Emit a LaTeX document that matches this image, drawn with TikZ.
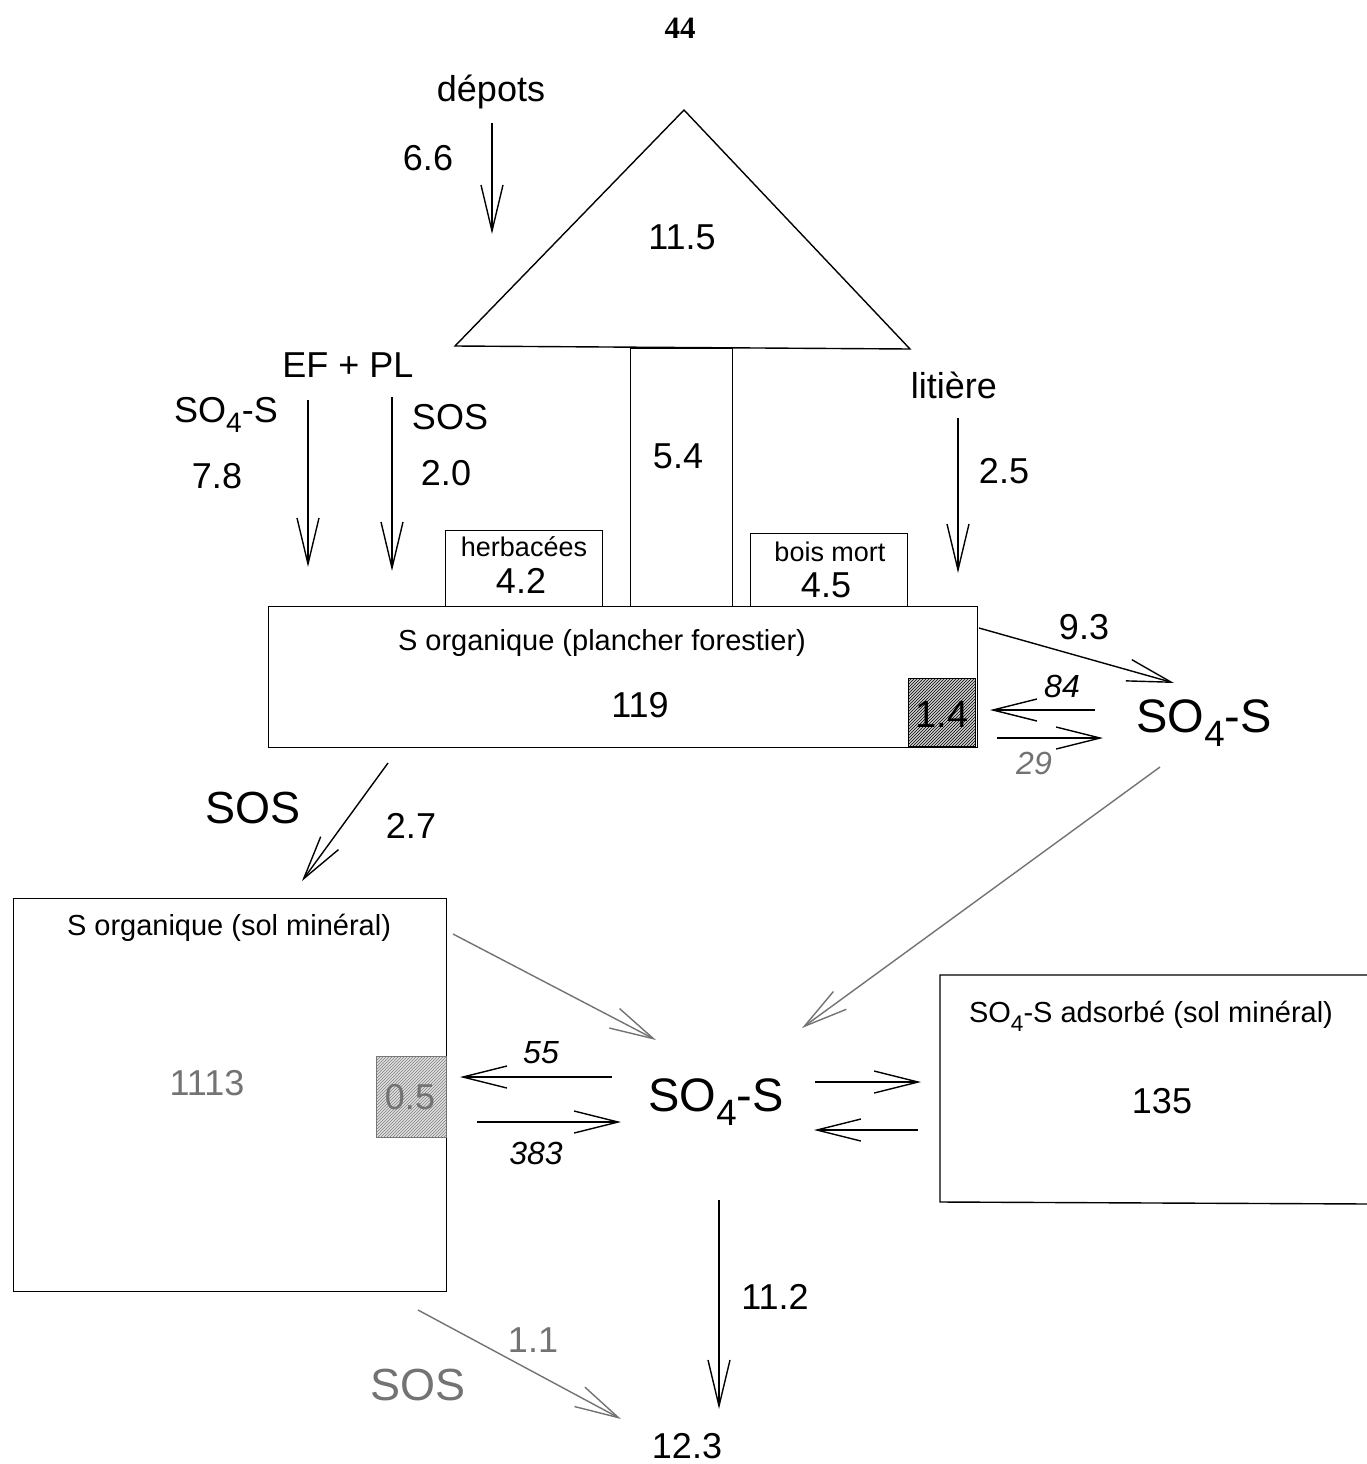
\documentclass[tikz,border=0pt]{standalone}
\usepackage{fontspec}
\setmainfont{Liberation Sans}
\newfontfamily\pagenumfont{Liberation Serif}
\usetikzlibrary{arrows.meta,patterns}
\definecolor{lgray}{gray}{0.45}
\newcommand{\sfour}{\raisebox{-0.3em}{\scalebox{0.78}{4}}}
\begin{document}
\begin{tikzpicture}[x=1pt,y=-1pt,
  boxst/.style={draw=black,line width=1.4pt,inner sep=0pt,fill=white},
  flow/.style={line width=1.4pt,-{Straight Barb[length=46pt,width=22pt,line width=1.4pt]}},
  sflow/.style={line width=1.4pt,-{Straight Barb[length=44pt,width=22pt,line width=1.4pt]}},
  gflow/.style={sflow,draw=lgray},
  lbl/.style={inner sep=0pt,font=\fontsize{36}{40}\selectfont},
  ilbl/.style={inner sep=0pt,font=\fontsize{32}{36}\selectfont\itshape},
  small/.style={inner sep=0pt,font=\fontsize{27}{30}\selectfont},
  big/.style={inner sep=0pt,font=\fontsize{47}{52}\selectfont},
  hatchA/.style={fill=gray!35,postaction={pattern=north east lines,pattern color=black}},
  hatchB/.style={fill=gray!25,postaction={pattern=north east lines,pattern color=gray}}
]
\useasboundingbox (0,0) rectangle (1366,1464);
\fill[white] (0,0) rectangle (1366,1464);

% page number
\node[inner sep=0pt,font=\fontsize{31}{34}\selectfont\pagenumfont\bfseries] (pnum) at (680,28) {44};

% tree
\draw[line width=1.4pt] (455,346) -- (684,110) -- (910,349) -- cycle;
\node[lbl] (crown) at (682,237) {11.5};
\node[boxst,anchor=north west,minimum width=102pt,minimum height=259pt] (trunk) at (630,348) {};
\node[lbl] (trunkv) at (678,456) {5.4};

% small boxes
\node[boxst,anchor=north west,minimum width=157pt,minimum height=76pt] (herb) at (445,530) {};
\node[small] (herbt) at (524,547) {herbacées};
\node[lbl] (herbv) at (521,581) {4.2};
\node[boxst,anchor=north west,minimum width=157pt,minimum height=74pt] (bois) at (750,533) {};
\node[small] (boist) at (830,552) {bois mort};
\node[lbl] (boisv) at (826,585) {4.5};

% forest floor box
\node[boxst,anchor=north west,minimum width=709pt,minimum height=141pt] (floor) at (268,606) {};
\node[inner sep=0pt,font=\fontsize{29}{32}\selectfont] (floort) at (602,643) {S organique (plancher forestier)};
\node[lbl] (floorv) at (640,705) {119};
\draw[line width=1pt,hatchA] (908,678) rectangle (975,746);
\node[inner sep=0pt,font=\fontsize{38}{42}\selectfont] (hA) at (942,714) {1.4};

% mineral soil box
\node[boxst,anchor=north west,minimum width=433pt,minimum height=393pt] (min) at (13,898) {};
\node[inner sep=0pt,font=\fontsize{29}{32}\selectfont] (mint) at (229,928) {S organique (sol minéral)};
\node[lbl,text=lgray] (minv) at (207,1083) {1113};
\draw[line width=1pt,draw=lgray,hatchB] (376,1056) rectangle (446,1137);
\node[inner sep=0pt,font=\fontsize{36}{40}\selectfont,text=lgray] (hB) at (410,1097) {0.5};

% adsorbed box
\draw[line width=1.4pt] (1370,975) -- (940,975) -- (940,1202) -- (1370,1204);
\node[inner sep=0pt,font=\fontsize{29}{32}\selectfont] (adst) at (1151,1016) {SO\sfour-S adsorbé (sol minéral)};
\node[lbl] (adsv) at (1162,1101) {135};

% pools of sulfate
\node[big] (so4r) at (1204,723) {SO\sfour-S};
\node[big] (so4c) at (716,1102) {SO\sfour-S};

% inputs
\node[lbl] (depots) at (491,92) {dépots};
\node[lbl] (v66) at (428,158) {6.6};
\coordinate (d1) at (492,123); \coordinate (d2) at (492,234);
\draw[flow] (d1) -- (d2);

\node[lbl] (efpl) at (348,365) {EF + PL};
\node[lbl] (so4in) at (226,415) {SO\sfour-S};
\node[lbl] (v78) at (217,476) {7.8};
\coordinate (a1) at (308,400); \coordinate (a2) at (308,567);
\draw[flow] (a1) -- (a2);
\node[lbl] (sosin) at (450,417) {SOS};
\node[lbl] (v20) at (446,473) {2.0};
\coordinate (b1) at (392,397); \coordinate (b2) at (392,571);
\draw[flow] (b1) -- (b2);

\node[lbl] (lit) at (954,385) {litière};
\node[lbl] (v25) at (1004,471) {2.5};
\coordinate (l1) at (958,418); \coordinate (l2) at (958,573);
\draw[flow] (l1) -- (l2);

% floor <-> SO4 right
\coordinate (f1) at (979,628); \coordinate (f2) at (1174,683);
\draw[sflow] (f1) -- (f2);
\node[lbl] (v93) at (1084,627) {9.3};
\coordinate (m1) at (1095,710); \coordinate (m2) at (990,710);
\draw[sflow] (m1) -- (m2);
\node[ilbl] (v84) at (1062,686) {84};
\coordinate (p1) at (997,738); \coordinate (p2) at (1103,738);
\draw[sflow] (p1) -- (p2);
\node[ilbl,text=lgray] (v29) at (1034,763) {29};

% SO4 right -> SO4 centre
\coordinate (g1) at (1160,767); \coordinate (g2) at (802,1028);
\draw[gflow] (g1) -- (g2);

% SOS floor -> mineral
\coordinate (s1) at (388,763); \coordinate (s2) at (302,881);
\draw[sflow] (s1) -- (s2);
\node[big,font=\fontsize{45}{50}\selectfont] (sos2) at (253,808) {SOS};
\node[lbl] (v27) at (411,826) {2.7};

% mineral -> SO4 centre
\coordinate (h1) at (453,934); \coordinate (h2) at (656,1040);
\draw[gflow] (h1) -- (h2);

% exchange mineral <-> SO4
\coordinate (e1) at (612,1077); \coordinate (e2) at (460,1077);
\draw[sflow] (e1) -- (e2);
\node[ilbl] (v55) at (541,1053) {55};
\coordinate (k1) at (477,1122); \coordinate (k2) at (621,1122);
\draw[sflow] (k1) -- (k2);
\node[ilbl] (v383) at (536,1153) {383};

% exchange SO4 <-> adsorbed
\coordinate (q1) at (815,1082); \coordinate (q2) at (921,1082);
\draw[sflow] (q1) -- (q2);
\coordinate (r1) at (918,1130); \coordinate (r2) at (814,1130);
\draw[sflow] (r1) -- (r2);

% outputs
\coordinate (o1) at (719,1200); \coordinate (o2) at (719,1409);
\draw[flow] (o1) -- (o2);
\node[lbl] (v112) at (775,1297) {11.2};
\coordinate (w1) at (418,1310); \coordinate (w2) at (621,1419);
\draw[gflow] (w1) -- (w2);
\node[lbl,text=lgray] (v11) at (533,1340) {1.1};
\node[big,font=\fontsize{45}{50}\selectfont,text=lgray] (sos3) at (418,1385) {SOS};
\node[lbl] (v123) at (687,1446) {12.3};
\end{tikzpicture}
\end{document}
